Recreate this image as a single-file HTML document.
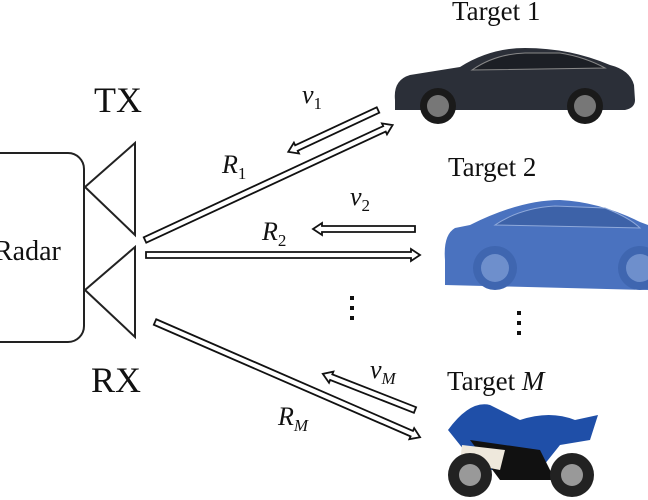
<!DOCTYPE html>
<html><head><meta charset="utf-8"><style>
html,body{margin:0;padding:0;background:#fff;width:648px;height:500px;overflow:hidden}
text{font-family:"Liberation Serif",serif;fill:#111}
</style></head><body>
<svg width="648" height="500" viewBox="0 0 648 500" xmlns="http://www.w3.org/2000/svg">
<rect x="-30" y="153" width="114" height="189" rx="16" fill="#fff" stroke="#222" stroke-width="2"/>
<text x="-6" y="260" font-size="28" font-family="Liberation Serif, serif">Radar</text>
<polygon points="85,187 135,143 135,235" fill="none" stroke="#222" stroke-width="2"/>
<polygon points="85,290 135,247 135,337" fill="none" stroke="#222" stroke-width="2"/>
<text x="94" y="112" font-size="36">TX</text>
<text x="91" y="392" font-size="36">RX</text>
<g fill="#fff" stroke="#111" stroke-width="1.8" stroke-linejoin="miter">
<g transform="translate(145,240) rotate(-24.9)"><polygon points="0,-3 264,-3 264,-6 273,0 264,6 264,3 0,3"/></g>
<g transform="translate(378,110) rotate(155)"><polygon points="0,-3 90,-3 90,-6 99,0 90,6 90,3 0,3"/></g>
<g transform="translate(146,255)"><polygon points="0,-3 265,-3 265,-6 274,0 265,6 265,3 0,3"/></g>
<g transform="translate(415,229) rotate(180)"><polygon points="0,-3 93,-3 93,-6 102,0 93,6 93,3 0,3"/></g>
<g transform="translate(155,322) rotate(23.5)"><polygon points="0,-3 280,-3 280,-6 289,0 280,6 280,3 0,3"/></g>
<g transform="translate(415,410) rotate(201.4)"><polygon points="0,-3 90,-3 90,-6 99,0 90,6 90,3 0,3"/></g>
</g>
<g font-style="italic" font-size="26">
<text x="302" y="103">v<tspan font-style="normal" font-size="17" dy="6">1</tspan></text>
<text x="222" y="173">R<tspan font-style="normal" font-size="17" dy="6">1</tspan></text>
<text x="350" y="205">v<tspan font-style="normal" font-size="17" dy="6">2</tspan></text>
<text x="262" y="240">R<tspan font-style="normal" font-size="17" dy="6">2</tspan></text>
<text x="370" y="378">v<tspan font-size="17" dy="6">M</tspan></text>
<text x="278" y="425">R<tspan font-size="17" dy="6">M</tspan></text>
</g>
<g fill="#111">
<rect x="350" y="296" width="4" height="4"/><rect x="350" y="306" width="4" height="4"/><rect x="350" y="316" width="4" height="4"/>
<rect x="517" y="311" width="4" height="4"/><rect x="517" y="321" width="4" height="4"/><rect x="517" y="331" width="4" height="4"/>
</g>
<text x="452" y="20" font-size="27">Target 1</text>
<text x="448" y="176" font-size="27">Target 2</text>
<text x="447" y="390" font-size="27">Target <tspan font-style="italic">M</tspan></text>
<path d="M395,100 Q393,80 410,75 L460,67 Q490,48 525,48 Q570,48 610,65 Q630,70 634,85 L635,100 Q635,108 625,110 L395,110 Z" fill="#2b2f38"/>
<path d="M472,70 Q495,54 525,53 L560,53 Q585,57 605,68 Z" fill="#1c1f25" stroke="#888" stroke-width="1"/>
<circle cx="438" cy="106" r="18" fill="#1a1a1a"/><circle cx="438" cy="106" r="11" fill="#777"/>
<circle cx="585" cy="106" r="18" fill="#1a1a1a"/><circle cx="585" cy="106" r="11" fill="#777"/>
<path d="M445,260 Q443,235 455,228 L470,225 Q520,200 560,200 Q600,202 640,222 L648,225 L648,290 L445,285 Z" fill="#4a72bf"/>
<path d="M495,225 Q520,208 555,206 L605,208 Q630,218 640,228 Z" fill="#3d62a8" stroke="#8fa9da" stroke-width="1"/>
<circle cx="495" cy="268" r="22" fill="#3f66b0"/><circle cx="495" cy="268" r="14" fill="#6e8fcc"/>
<circle cx="640" cy="268" r="22" fill="#3f66b0"/><circle cx="640" cy="268" r="14" fill="#6e8fcc"/>
<path d="M448,430 Q470,400 490,405 L520,420 Q550,410 575,420 L598,415 L590,440 L560,445 L540,470 L480,470 Z" fill="#1f4fa8"/>
<path d="M470,440 L540,450 L555,480 L500,480 Z" fill="#111"/>
<path d="M462,445 L505,450 L500,470 L460,462 Z" fill="#eee8dc"/>
<circle cx="470" cy="475" r="22" fill="#222"/><circle cx="470" cy="475" r="11" fill="#999"/>
<circle cx="572" cy="475" r="22" fill="#222"/><circle cx="572" cy="475" r="11" fill="#999"/>
</svg>
</body></html>
